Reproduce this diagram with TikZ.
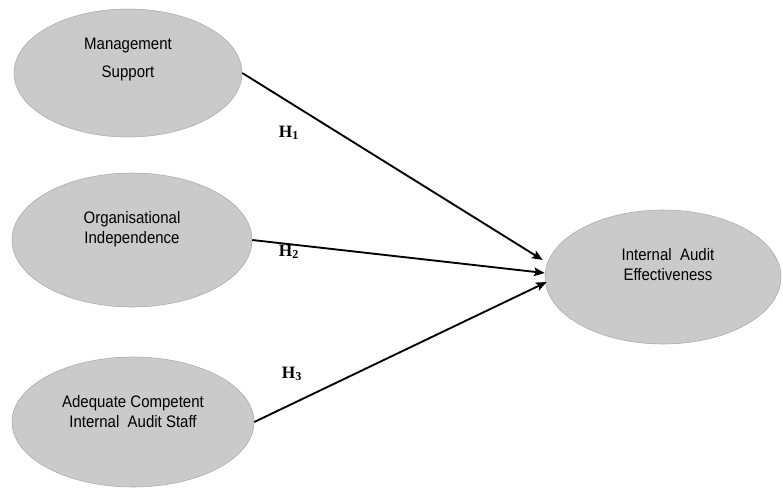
\documentclass[tikz,border=0pt]{standalone}
\usepackage{fontspec}
\setmainfont[FakeStretch=0.9]{Liberation Sans}
\newfontfamily\hypfont{Liberation Serif}
\usetikzlibrary{shapes.geometric, arrows.meta}
\definecolor{ovalgray}{HTML}{CACACA}
\definecolor{ovalline}{HTML}{A8A8A8}
\tikzstyle{construct} = [ellipse, draw=ovalline, fill=ovalgray, inner sep=0pt]
\tikzstyle{lbl}       = [align=center, inner sep=0pt, font=\fontsize{12.5}{15}\selectfont]
\tikzstyle{hyp}       = [inner sep=0pt, font=\fontsize{13}{15}\hypfont\bfseries]
\tikzstyle{diredge}   = [line width=1.4pt, ->, >={Stealth[length=8pt, width=6.5pt, inset=1.5pt]}]
\begin{document}
\begin{tikzpicture}[x=0.75pt, y=-0.75pt]
\useasboundingbox (0,0) rectangle (783,489);

\node[construct, minimum width=171pt, minimum height=96pt]    (MS) at (128,73) {};
\node[construct, minimum width=180pt, minimum height=100.5pt] (OI) at (132,240) {};
\node[construct, minimum width=181.5pt, minimum height=97.5pt] (AC) at (133,422) {};
\node[construct, minimum width=177pt, minimum height=100.5pt] (IA) at (663,277) {};

\node[lbl] (MSt) at (128,59) {Management\\[6pt]Support};
\node[lbl] (OIt) at (132,229) {Organisational\\Independence};
\node[lbl] (ACt) at (133,412) {Adequate Competent\\Internal \ Audit Staff};
\node[lbl] (IAt) at (668,265) {Internal \ Audit\\Effectiveness};

\draw[diredge] (MS.east) -- ([shift={(-2,-17)}]IA.west);
\draw[diredge] (OI.east) -- ([shift={(0,-4)}]IA.west);
\draw[diredge] (AC.east) -- ([shift={(2,5)}]IA.west);

\node[hyp] (H1) at (289,133) {H\textsubscript{1}};
\node[hyp] (H2) at (289,252) {H\textsubscript{2}};
\node[hyp] (H3) at (292,374) {H\textsubscript{3}};

\end{tikzpicture}
\end{document}
